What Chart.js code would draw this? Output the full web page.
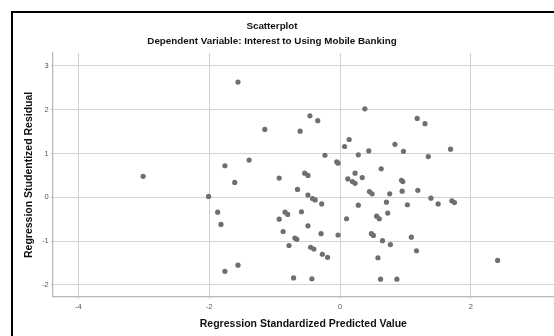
<!DOCTYPE html>
<html>
<head>
<meta charset="utf-8">
<script src="https://cdn.jsdelivr.net/npm/chart.js@4/dist/chart.umd.min.js"></script>
<style>
  html, body { margin: 0; padding: 0; background: #ffffff; overflow: hidden; }
  #wrap { position: absolute; left: -10px; top: 0; width: 564px; height: 336px; }
</style>
</head>
<body>
<div id="wrap"><canvas id="c" width="564" height="336"></canvas></div>
<script>
// Regression Standardized Predicted Value (x)
const predicted = [
  -3.01, -2.01, -1.87, -1.82, -1.76, -1.76, -1.61, -1.56, -1.56, -1.39,
  -1.15, -0.93, -0.93, -0.84, -0.80, -0.87, -0.78, -0.71, -0.69, -0.66,
  -0.65, -0.61, -0.59, -0.54, -0.49, -0.49, -0.42, -0.38, -0.49, -0.46,
  -0.34, -0.45, -0.40, -0.43, -0.29, -0.28, -0.27, -0.23, -0.19, -0.05,
  -0.03, -0.03, 0.07, 0.14, 0.10, 0.12, 0.19, 0.23, 0.23, 0.28,
  0.28, 0.34, 0.38, 0.44, 0.45, 0.49, 0.48, 0.51, 0.56, 0.60,
  0.58, 0.62, 0.63, 0.65, 0.71, 0.73, 0.76, 0.77, 0.84, 0.87,
  0.94, 0.96, 0.95, 0.97, 1.03, 1.09, 1.17, 1.18, 1.19, 1.30,
  1.35, 1.39, 1.50, 1.69, 1.71, 1.75, 2.41
];
// Regression Studentized Residual (y)
const residual = [
  0.48, 0.02, -0.34, -0.62, 0.72, -1.69, 0.34, 2.63, -1.55, 0.85,
  1.55, 0.44, -0.50, -0.34, -0.39, -0.78, -1.10, -1.84, -0.93, -0.96,
  0.18, 1.51, -0.33, 0.55, 0.50, 0.05, -0.03, -0.06, -0.65, 1.86,
  1.75, -1.14, -1.18, -1.86, -0.83, -0.15, -1.30, 0.96, -1.37, 0.81,
  0.78, -0.86, 1.16, 1.32, -0.49, 0.42, 0.36, 0.32, 0.55, 0.97,
  -0.18, 0.45, 2.02, 1.06, 0.13, 0.08, -0.83, -0.87, -0.43, -0.49,
  -1.38, -1.87, 0.65, -0.99, -0.11, -0.36, 0.08, -1.08, 1.21, -1.87,
  0.39, 0.36, 0.14, 1.05, -0.17, -0.91, -1.22, 1.80, 0.16, 1.68,
  0.93, -0.02, -0.15, 1.10, -0.08, -0.12, -1.44
];
const xTickValues = [-4, -2, 0, 2];
const yTickValues = [-2, -1, 0, 1, 2, 3];

const points = predicted.map((x, i) => ({ x: x, y: residual[i] }));

const FONT = "'Liberation Sans', Arial, sans-serif";

const framePlugin = {
  id: 'frame',
  beforeDraw(chart) {
    const ctx = chart.ctx;
    ctx.save();
    ctx.fillStyle = '#ffffff';
    ctx.fillRect(0, 0, chart.width, chart.height);
    ctx.strokeStyle = '#000000';
    ctx.lineWidth = 2;
    ctx.strokeRect(22, 12, chart.width + 20, chart.height + 20);
    ctx.restore();
  }
};

new Chart(document.getElementById('c'), {
  type: 'scatter',
  data: {
    datasets: [{
      data: points,
      backgroundColor: '#6f6f6f',
      borderWidth: 0,
      pointRadius: 2.6,
      pointHoverRadius: 2.6
    }]
  },
  options: {
    responsive: false,
    animation: false,
    layout: { autoPadding: false, padding: { left: 0, right: 0, top: 0, bottom: 0 } },
    plugins: {
      legend: { display: false },
      tooltip: { enabled: false },
      title: {
        display: true,
        text: 'Scatterplot',
        color: '#111111',
        font: { family: FONT, size: 9.8, weight: 'bold', lineHeight: 1.2 },
        padding: { top: 20, bottom: 0 }
      },
      subtitle: {
        display: true,
        text: 'Dependent Variable: Interest to Using Mobile Banking',
        color: '#111111',
        font: { family: FONT, size: 9.8, weight: 'bold', lineHeight: 1.2 },
        padding: { top: 3.8, bottom: 5.7 }
      }
    },
    scales: {
      x: {
        type: 'linear',
        min: -4.393,
        max: 3.272,
        afterBuildTicks: (scale) => { scale.ticks = xTickValues.map(v => ({ value: v })); },
        afterFit: (scale) => { scale.height = 39.3; },
        grid: { color: '#d3d3d3', lineWidth: 1, tickLength: 2, tickColor: '#c4c4c4' },
        border: { color: '#b8b8b8', width: 1.3 },
        ticks: {
          color: '#555555',
          font: { family: FONT, size: 7.5 },
          padding: 4,
          maxRotation: 0,
          callback: (v) => String(v)
        },
        title: {
          display: true,
          text: 'Regression Standardized Predicted Value',
          color: '#111111',
          font: { family: FONT, size: 10.5, weight: 'bold', lineHeight: 1.2 },
          padding: { top: 0, bottom: 5.7 }
        }
      },
      y: {
        type: 'linear',
        min: -2.269,
        max: 3.294,
        afterBuildTicks: (scale) => { scale.ticks = yTickValues.map(v => ({ value: v })); },
        afterFit: (scale) => { scale.width = 62.7; },
        grid: { color: '#d3d3d3', lineWidth: 1, tickLength: 2, tickColor: '#c4c4c4' },
        border: { color: '#b8b8b8', width: 1.3 },
        ticks: {
          color: '#555555',
          font: { family: FONT, size: 7.5 },
          padding: 2,
          callback: (v) => String(v)
        },
        title: {
          display: true,
          text: 'Regression Studentized Residual',
          color: '#111111',
          font: { family: FONT, size: 10.5, weight: 'bold', lineHeight: 1.2 },
          padding: { top: 32.7, bottom: 0 }
        }
      }
    }
  },
  plugins: [framePlugin]
});
</script>
</body>
</html>
